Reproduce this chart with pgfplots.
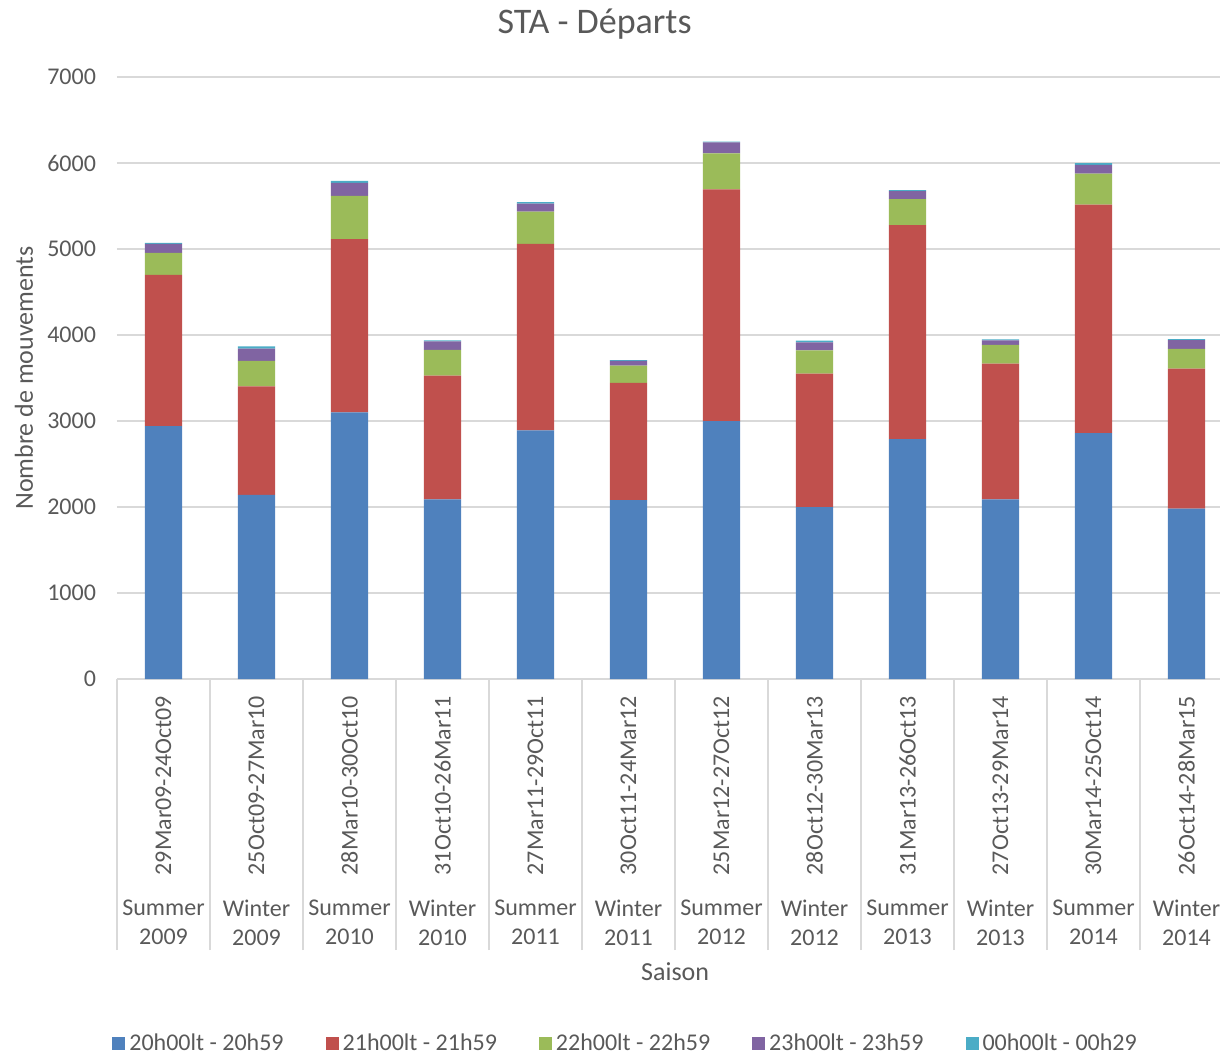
\documentclass[border=0pt]{standalone}
\usepackage{fontspec}
\setmainfont{Carlito}
\usepackage{pgfplots}
\usepackage{pgfplotstable}
\pgfplotsset{compat=1.18}

\definecolor{sBlue}{HTML}{4F81BD}
\definecolor{sRed}{HTML}{C0504D}
\definecolor{sGreen}{HTML}{9BBB59}
\definecolor{sPurple}{HTML}{8064A2}
\definecolor{sCyan}{HTML}{4BACC6}
\definecolor{txt}{HTML}{595959}
\definecolor{gridc}{HTML}{D9D9D9}

% departures per season, stacked by hour band
\pgfplotstableread{
x blue red green purple cyan
0  2940 1760 255 105 12
1  2140 1263 295 143 27
2  3100 2015 504 151 23
3  2090 1437 299 100 12
4  2890 2170 376  93 16
5  2080 1362 201  55 11
6  3000 2694 419 127  8
7  2000 1550 272  93 19
8  2790 2489 302  93 12
9  2090 1577 217  54 12
10 2860 2656 360 101 23
11 1980 1630 229 101 12
}\data

\newcommand{\rl}[1]{\rotatebox{90}{#1\hspace{5pt}}}

\begin{document}
\begin{tikzpicture}
\begin{axis}[
    scale only axis,
    width=551.5pt,
    height=301pt,
    ybar stacked,
    bar width=0.4,
    xmin=-0.5, xmax=11.36,
    ymin=0, ymax=7000,
    ytick={0,1000,...,7000},
    /pgf/number format/assume math mode=true,
    /pgf/number format/set thousands separator={},
    axis x line*=bottom,
    axis y line*=left,
    y axis line style={draw=none},
    x axis line style={draw=gridc, line width=0.8pt},
    ymajorgrids,
    major grid style={draw=gridc, line width=0.8pt},
    major tick length=0pt,
    tick align=outside,
    xtick={0,...,11},
    xticklabels={\rl{29Mar09-24Oct09},\rl{25Oct09-27Mar10},\rl{28Mar10-30Oct10},\rl{31Oct10-26Mar11},
                 \rl{27Mar11-29Oct11},\rl{30Oct11-24Mar12},\rl{25Mar12-27Oct12},\rl{28Oct12-30Mar13},
                 \rl{31Mar13-26Oct13},\rl{27Oct13-29Mar14},\rl{30Mar14-25Oct14},\rl{26Oct14-28Mar15}},
    xticklabel style={anchor=north, align=center},
    minor xtick={-0.5,0.5,...,11.5},
    minor tick length=135.5pt,
    minor x tick style={draw=gridc, line width=0.8pt},
    extra x ticks={0,...,11},
    extra x tick labels={{Summer\\2009},{Winter\\2009},{Summer\\2010},{Winter\\2010},
                         {Summer\\2011},{Winter\\2011},{Summer\\2012},{Winter\\2012},
                         {Summer\\2013},{Winter\\2013},{Summer\\2014},{Winter\\2014}},
    extra x tick style={major tick length=0pt,
        xticklabel style={yshift=-107pt}},
    tick label style={font=\fontsize{12}{14.5}\selectfont, text=txt},
    yticklabel style={xshift=-7pt},
    title={STA - Départs},
    title style={font=\fontsize{18}{21}\selectfont, text=txt,
        at={(axis description cs:0.433,1)}, anchor=base, yshift=16pt},
    ylabel={Nombre de mouvements},
    ylabel style={font=\fontsize{13}{15}\selectfont, text=txt,
        at={(axis description cs:-0.0843,0.5)}, anchor=center},
    xlabel={Saison},
    xlabel style={font=\fontsize{13}{15}\selectfont, text=txt,
        at={(axis description cs:0.506,0)}, anchor=center, yshift=-146.5pt},
    legend columns=5,
    legend style={draw=none, fill=none, font=\fontsize{12}{14}\selectfont, text=txt,
        at={(axis description cs:0.462,-0.605)}, anchor=center,
        /tikz/every even column/.append style={column sep=19pt}},
    legend image code/.code={\fill[#1] (0pt,-3.25pt) rectangle (6.5pt,3.25pt);},
]
\addplot[fill=sBlue, draw=none] table[x=x, y=blue] {\data};
\addlegendentry{20h00lt - 20h59}
\addplot[fill=sRed, draw=none] table[x=x, y=red] {\data};
\addlegendentry{21h00lt - 21h59}
\addplot[fill=sGreen, draw=none] table[x=x, y=green] {\data};
\addlegendentry{22h00lt - 22h59}
\addplot[fill=sPurple, draw=none] table[x=x, y=purple] {\data};
\addlegendentry{23h00lt - 23h59}
\addplot[fill=sCyan, draw=none] table[x=x, y=cyan] {\data};
\addlegendentry{00h00lt - 00h29}
\end{axis}
\pgfresetboundingbox
\path (-58.5pt,-188pt) rectangle (551.5pt,339.5pt);
\end{tikzpicture}
\end{document}
